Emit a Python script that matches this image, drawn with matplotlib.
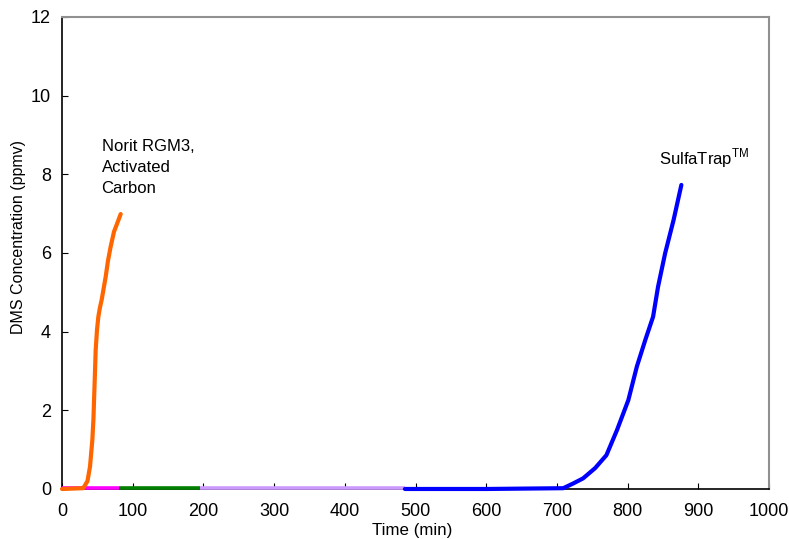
"""
DMS breakthrough curves: Norit RGM3 activated carbon vs SulfaTrap
"""
import matplotlib
matplotlib.use('Agg')
import matplotlib.pyplot as plt

plt.rcParams['font.family'] = ['Liberation Sans', 'DejaVu Sans']

# breakthrough data (time in min, DMS in ppmv)
norit_t = [0, 30, 36, 39.6, 42.9, 44.5, 45.3, 46.5, 47.6, 49.5, 51.4, 53.5, 56.1, 61.8, 65, 68.8, 73.5, 78, 83]
norit_c = [0, 0.02, 0.2, 0.57, 1.25, 1.8, 2.26, 2.9, 3.53, 4.05, 4.38, 4.6, 4.81, 5.4, 5.8, 6.16, 6.54, 6.75, 6.99]

sulfa_t = [485, 600, 709, 723, 737, 754, 770, 785, 801, 813, 825, 836, 843, 853, 865, 876]
sulfa_c = [0, 0, 0.02, 0.14, 0.27, 0.53, 0.86, 1.5, 2.26, 3.11, 3.79, 4.38, 5.14, 5.99, 6.84, 7.73]

# other sorbents, no breakthrough within the run
magenta_t = [0, 80]
magenta_c = [0.03, 0.03]
green_t = [80, 195]
green_c = [0.02, 0.02]
lavender_t = [195, 485]
lavender_c = [0.02, 0.02]

fig = plt.figure(figsize=(7.89, 5.39), dpi=100)
ax = fig.add_axes([0.0786, 0.0928, 0.8961, 0.8757])

for side in ['top', 'right']:
    ax.spines[side].set_color('#909090')
    ax.spines[side].set_linewidth(1.5)
for side in ['left', 'bottom']:
    ax.spines[side].set_color('#000000')
    ax.spines[side].set_linewidth(1.2)

flat = dict(linewidth=2.6, solid_capstyle='butt', clip_on=False, zorder=4)
ax.plot(lavender_t, lavender_c, color='#CC99FF', **flat)
ax.plot(green_t, green_c, color='#008000', **flat)
ax.plot(magenta_t, magenta_c, color='#FF00FF', **flat)
ax.plot(norit_t, norit_c, color='#FF6600', linewidth=3, solid_capstyle='round',
        clip_on=False, zorder=5)
ax.plot(sulfa_t, sulfa_c, color='#0000FF', linewidth=3, solid_capstyle='round',
        clip_on=False, zorder=5)

ax.text(56, 8.9, 'Norit RGM3,\nActivated\nCarbon', fontsize=12, va='top', ha='left',
        linespacing=1.5)
ax.text(845, 8.4, r'SulfaTrap$^{\mathregular{TM}}$', fontsize=12, va='center', ha='left')

ax.set_xlim(0, 1000)
ax.set_ylim(0, 12)
ax.set_xticks(range(0, 1001, 100))
ax.set_yticks(range(0, 13, 2))
ax.tick_params(direction='in', length=4, labelsize=13, pad=10)
ax.tick_params(axis='y', pad=8)

ax.set_xlabel('Time (min)', fontsize=12.2)
ax.set_ylabel('DMS Concentration (ppmv)', fontsize=11.5)
ax.xaxis.set_label_coords(0.495, -0.073)
ax.yaxis.set_label_coords(-0.051, 0.534)

fig.savefig('out.png', dpi=100)
print("saved: out.png")
